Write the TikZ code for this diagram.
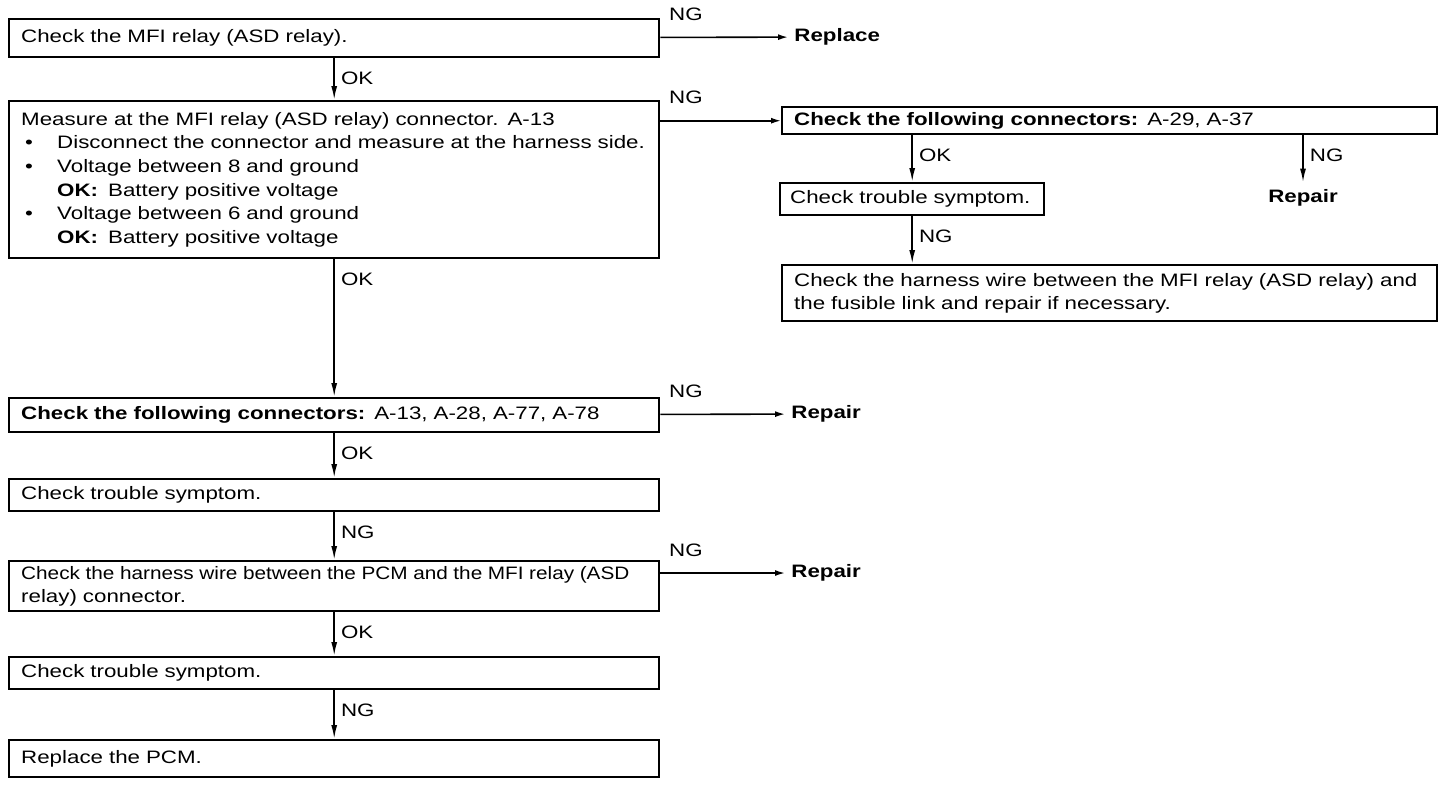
\documentclass[tikz,border=0pt]{standalone}
\usepackage{fontspec}
\usepackage{graphicx}
\setmainfont{Liberation Sans}[FakeStretch=1.24]
\usetikzlibrary{arrows.meta}

\newcommand{\bul}{\makebox[18pt][l]{\hspace*{2pt}\textbullet}}
\newcommand{\ind}{\hspace*{18pt}}

\begin{document}
\begin{tikzpicture}[x=0.5pt, y=-0.5pt, font=\fontsize{9}{11.8}\selectfont,
	box/.style={draw, line width=1.2pt, anchor=north west, align=left, inner xsep=6pt, inner ysep=1pt},
	lbox/.style={box, text width=313pt, minimum height=#1},
	rbox/.style={box, text width=315.5pt, minimum height=#1},
	arr/.style={-{Latex[length=7pt,width=3pt]}, line width=0.9pt},
	harr/.style={-{Latex[length=5pt,width=3pt]}, line width=0.8pt},
	vlbl/.style={anchor=west, inner sep=1pt, xshift=2pt, yshift=-10pt},
	hlbl/.style={anchor=south west, inner sep=1pt, xshift=3pt, yshift=7pt},
	res/.style={font=\fontsize{9}{11.8}\selectfont\bfseries, inner xsep=3pt}]
		\useasboundingbox (0,0) rectangle (1440,784);
		
		% Left column
		\node[lbox=19pt] (b1) at (8,18) {Check the MFI relay (ASD relay).};
		\node[lbox=78.5pt] (b2) at (8,100) {Measure at the MFI relay (ASD relay) connector. A-13\\
			\bul Disconnect the connector and measure at the harness side.\\
			\bul Voltage between 8 and ground\\
			\ind\textbf{OK:}\hspace{5pt}Battery positive voltage\\
			\bul Voltage between 6 and ground\\
			\ind\textbf{OK:}\hspace{5pt}Battery positive voltage};
		\node[lbox=17pt] (b6) at (8,397) {\textbf{Check the following connectors:} A-13, A-28, A-77, A-78};
		\node[lbox=16pt] (b7) at (8,478) {Check trouble symptom.};
		\node[lbox=25pt] (b8) at (8,560) {\scalebox{0.93}[1]{Check the harness wire between the PCM and the MFI relay (ASD}\\relay) connector.};
		\node[lbox=16pt] (b9) at (8,656) {Check trouble symptom.};
		\node[lbox=18.5pt] (b10) at (8,739) {Replace the PCM.};
		
		% Right column
		\node[rbox=13.5pt] (b3) at (781,106) {\textbf{Check the following connectors:} A-29, A-37};
		\node[box, text width=122pt, inner xsep=5pt, minimum height=16pt] (b4) at (779,182) {\mbox{Check trouble symptom.}};
		\node[rbox=28pt] (b5) at (781,264) {Check the harness wire between the MFI relay (ASD relay) and\\the fusible link and repair if necessary.};
		
		% Results
		\node[res, anchor=west] (rp0) at (788,37) {Replace};
		\node[res, anchor=west] (rp1) at (785,414) {Repair};
		\node[res] (rp2) at (1303,198) {Repair};
		\node[res, anchor=west] (rp3) at (785,573) {Repair};
		
		% NG branches
		\draw[harr] (b1) -- (rp0) node[hlbl, pos=0] (ng0) {NG};
		\draw[harr] (b3.west -| b2.east) -- (b3.west) node[hlbl, pos=0] (ng1) {NG};
		\draw[harr] (b6) -- (rp1) node[hlbl, pos=0] (ng2) {NG};
		\draw[harr] (rp3.west -| b8.east) -- (rp3.west) node[hlbl, pos=0] (ng3) {NG};
		
		% Main flow
		\draw[arr] (b1) -- (b2) node[vlbl, pos=0] (ok0) {OK};
		\draw[arr] (b2) -- (b6) node[vlbl, pos=0] (ok1) {OK};
		\draw[arr] (b6) -- (b7) node[vlbl, pos=0] (ok2) {OK};
		\draw[arr] (b7) -- (b8) node[vlbl, pos=0] (ng4) {NG};
		\draw[arr] (b8) -- (b9) node[vlbl, pos=0] (ok3) {OK};
		\draw[arr] (b9) -- (b10) node[vlbl, pos=0] (ng5) {NG};
		
		% Right flow
		\draw[arr] (b4.north |- b3.south) -- (b4.north) node[vlbl, pos=0] (ok4) {OK};
		\draw[arr] (rp2.north |- b3.south) -- (rp2.north) node[vlbl, pos=0] (ng6) {NG};
		\draw[arr] (b4.south) -- (b4.south |- b5.north) node[vlbl, pos=0] (ng7) {NG};
		
	\end{tikzpicture}
\end{document}
